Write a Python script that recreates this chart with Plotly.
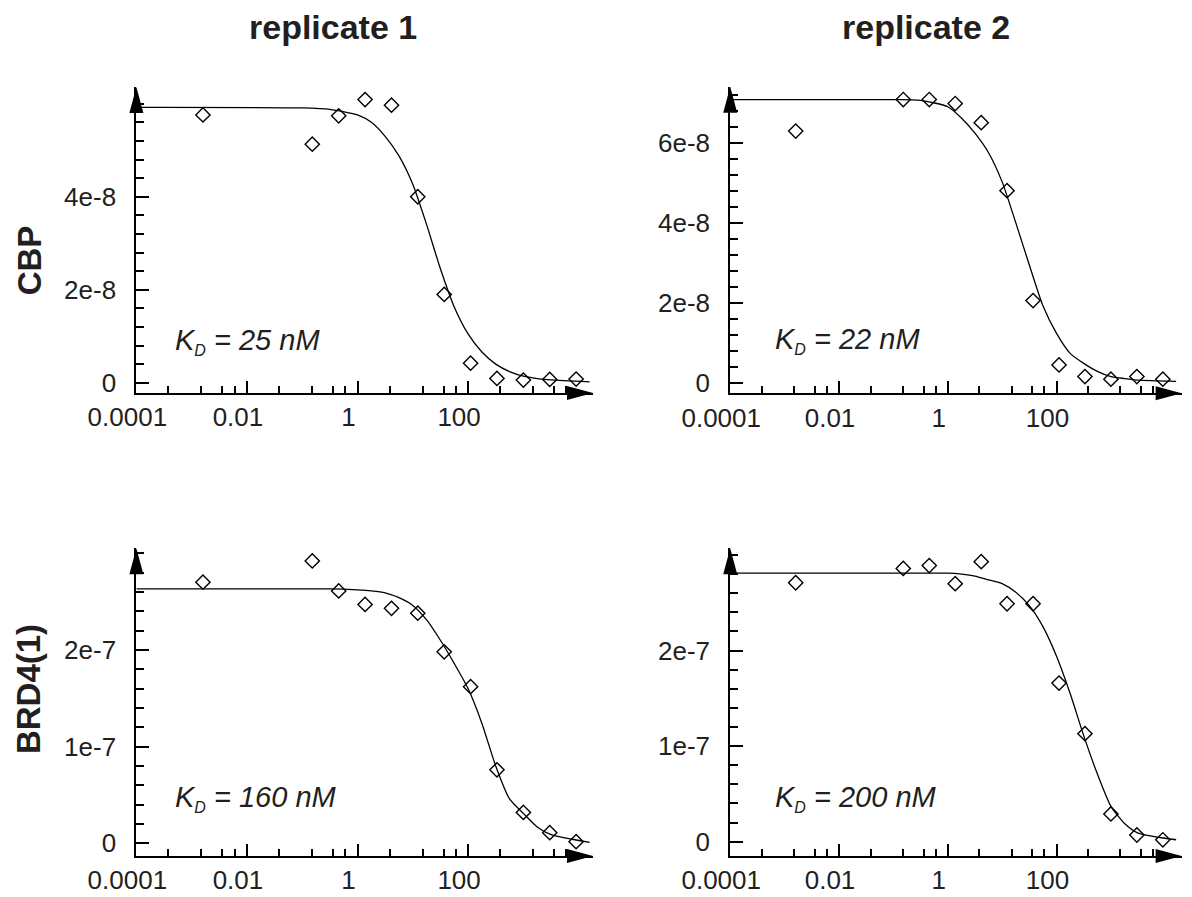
import plotly.graph_objects as go

# concentrations (nM), 3-fold dilution series plus the lowest point
conc = [0.0016, 0.152, 0.457, 1.37, 4.12, 12.3, 37.0, 111, 333, 1000, 3000, 9000]

cbp_rep1 = [5.76, 5.13, 5.74, 6.09, 5.97, 4.00, 1.90, 0.42, 0.093, 0.057, 0.072, 0.079]   # x 1e-8
cbp_rep2 = [6.29, 7.08, 7.08, 6.98, 6.50, 4.80, 2.05, 0.44, 0.15, 0.083, 0.15, 0.083]     # x 1e-8
brd_rep1 = [2.70, 2.92, 2.61, 2.47, 2.43, 2.38, 1.98, 1.62, 0.76, 0.32, 0.11, 0.017]      # x 1e-7
brd_rep2 = [2.71, 2.86, 2.89, 2.70, 2.93, 2.49, 2.49, 1.66, 1.13, 0.29, 0.07, 0.02]       # x 1e-7

# fitted curves
fit_conc = [0.0001, 0.1, 0.316, 1.0, 1.78, 3.16, 5.62, 10.0, 17.8, 31.6, 56.2, 100,
            178, 316, 562, 1000, 1780, 3160, 15800]
cbp_fit1 = [5.92, 5.91, 5.88, 5.76, 5.60, 5.30, 4.88, 4.27, 3.40, 2.45, 1.63, 1.05,
            0.66, 0.40, 0.24, 0.14, 0.09, 0.06, 0.02]
cbp_fit2 = [7.08, 7.08, 7.06, 6.90, 6.62, 6.24, 5.75, 5.02, 4.00, 2.94, 1.92, 1.23,
            0.73, 0.48, 0.28, 0.15, 0.10, 0.06, 0.03]
brd_fit1 = [2.63, 2.63, 2.63, 2.62, 2.61, 2.59, 2.54, 2.46, 2.31, 2.10, 1.86, 1.60,
            1.24, 0.80, 0.46, 0.31, 0.17, 0.09, 0.01]
brd_fit2 = [2.81, 2.81, 2.81, 2.81, 2.80, 2.78, 2.74, 2.70, 2.61, 2.47, 2.25, 1.94,
            1.55, 1.11, 0.71, 0.37, 0.19, 0.09, 0.02]

kd_text = ['25', '22', '160', '200']
col_titles = ['replicate 1', 'replicate 2']
row_titles = ['CBP', 'BRD4(1)']

x_tickvals = [1e-4, 1e-2, 1, 100]
x_ticktext = ['0.0001', '0.01', '1', '100']
minor_mult = [3.8, 15, 36, 60]
x_minor = [b * m for b in x_tickvals for m in minor_mult]

TXT = '#231f20'
FONT = 'Liberation Sans, Arial, sans-serif'

panels = [
    dict(pts=cbp_rep1, fit=cbp_fit1, unit=1e-8, yt=[0, 2, 4], ylab=['0', '2e-8', '4e-8'],
         minor=0.4, yr=[-0.22, 6.36], xr=[-4, 4.26],
         xd=[0.1144, 0.4975], yd=[0.5619, 0.9030], kx=0.080, ky=0.104),
    dict(pts=cbp_rep2, fit=cbp_fit2, unit=1e-8, yt=[0, 2, 4, 6], ylab=['0', '2e-8', '4e-8', '6e-8'],
         minor=0.4, yr=[-0.27, 7.40], xr=[-4, 4.30],
         xd=[0.6126, 0.9913], yd=[0.5615, 0.9033], kx=0.0955, ky=0.108),
    dict(pts=brd_rep1, fit=brd_fit1, unit=1e-7, yt=[0, 1, 2], ylab=['0', '1e-7', '2e-7'],
         minor=0.2, yr=[-0.131, 3.05], xr=[-4, 4.26],
         xd=[0.1144, 0.4975], yd=[0.0457, 0.3887], kx=0.080, ky=0.125),
    dict(pts=brd_rep2, fit=brd_fit2, unit=1e-7, yt=[0, 1, 2], ylab=['0', '1e-7', '2e-7'],
         minor=0.2, yr=[-0.15, 3.07], xr=[-4, 4.30],
         xd=[0.6126, 0.9913], yd=[0.0457, 0.3887], kx=0.0955, ky=0.125),
]

fig = go.Figure()
shapes = []
annotations = []

for i, p in enumerate(panels):
    s = '' if i == 0 else str(i + 1)
    u = p['unit']
    fig.add_trace(go.Scatter(x=fit_conc, y=[v * u for v in p['fit']], mode='lines',
                             line=dict(color='black', width=1.3, shape='spline', smoothing=0.6),
                             xaxis='x' + s, yaxis='y' + s, showlegend=False, hoverinfo='skip'))
    fig.add_trace(go.Scatter(x=conc, y=[v * u for v in p['pts']], mode='markers',
                             marker=dict(symbol='diamond-open', size=11, color='black',
                                         line=dict(width=1.4)),
                             cliponaxis=False, xaxis='x' + s, yaxis='y' + s, showlegend=False))

    fig.layout['xaxis' + s] = dict(
        type='log', domain=p['xd'], range=p['xr'], anchor='y' + s, automargin=False,
        showline=True, linecolor='black', linewidth=2, showgrid=False, zeroline=False,
        ticks='inside', ticklen=12, tickwidth=1.5, tickcolor='black',
        tickvals=x_tickvals, ticktext=x_ticktext,
        minor=dict(tickvals=x_minor, ticks='inside', ticklen=7, tickwidth=1.5, tickcolor='black'),
        tickfont=dict(family=FONT, size=26, color=TXT), ticklabelshift=-9, ticklabelstandoff=0)
    fig.layout['yaxis' + s] = dict(
        domain=p['yd'], range=[v * u for v in p['yr']], anchor='x' + s, automargin=False,
        showline=True, linecolor='black', linewidth=2, showgrid=False, zeroline=False,
        ticks='inside', ticklen=13, tickwidth=1.5, tickcolor='black',
        tickvals=[v * u for v in p['yt']], ticktext=p['ylab'],
        minor=dict(tick0=0, dtick=p['minor'] * u, ticks='inside', ticklen=8, tickwidth=1.5,
                   tickcolor='black'),
        tickfont=dict(family=FONT, size=26, color=TXT), ticklabelstandoff=13)

    # axis arrow heads
    shapes.append(dict(type='path', xref='x' + s + ' domain', yref='y' + s + ' domain',
                       xsizemode='pixel', ysizemode='pixel', xanchor=0, yanchor=1,
                       path='M-7,-26 L0,0 L7,-26 Z', fillcolor='black', line=dict(width=0)))
    shapes.append(dict(type='path', xref='x' + s + ' domain', yref='y' + s + ' domain',
                       xsizemode='pixel', ysizemode='pixel', xanchor=1, yanchor=0,
                       path='M-26,-7 L0,0 L-26,7 Z', fillcolor='black', line=dict(width=0)))

    annotations.append(dict(xref='x' + s + ' domain', yref='y' + s + ' domain',
                            x=p['kx'], y=p['ky'], xanchor='left', yanchor='bottom',
                            text='<i>K<sub><span style="font-size:16px">D</span></sub> = '
                                 + kd_text[i] + ' nM</i>',
                            showarrow=False, font=dict(family=FONT, size=29, color=TXT)))

for j, t in enumerate(col_titles):
    annotations.append(dict(xref='paper', yref='paper', x=[0.2790, 0.7765][j], y=0.970,
                            xanchor='center', yanchor='middle',
                            text='<b>' + t + '</b>', showarrow=False,
                            font=dict(family=FONT, size=34, color=TXT)))
for j, t in enumerate(row_titles):
    annotations.append(dict(xref='paper', yref='paper', x=0.0245, y=[0.710, 0.232][j],
                            xanchor='center', yanchor='middle',
                            text='<b>' + t + '</b>', textangle=-90, showarrow=False,
                            font=dict(family=FONT, size=33, color=TXT)))

fig.update_layout(template='none', width=1192, height=897,
                  margin=dict(l=0, r=0, t=0, b=0, autoexpand=False),
                  plot_bgcolor='white', paper_bgcolor='white',
                  shapes=shapes, annotations=annotations)

# the page's default body margin would shift the figure by 8 px
fig.write_html("out.html", config={'displayModeBar': False},
               post_script="document.body.style.margin = '0px';")
